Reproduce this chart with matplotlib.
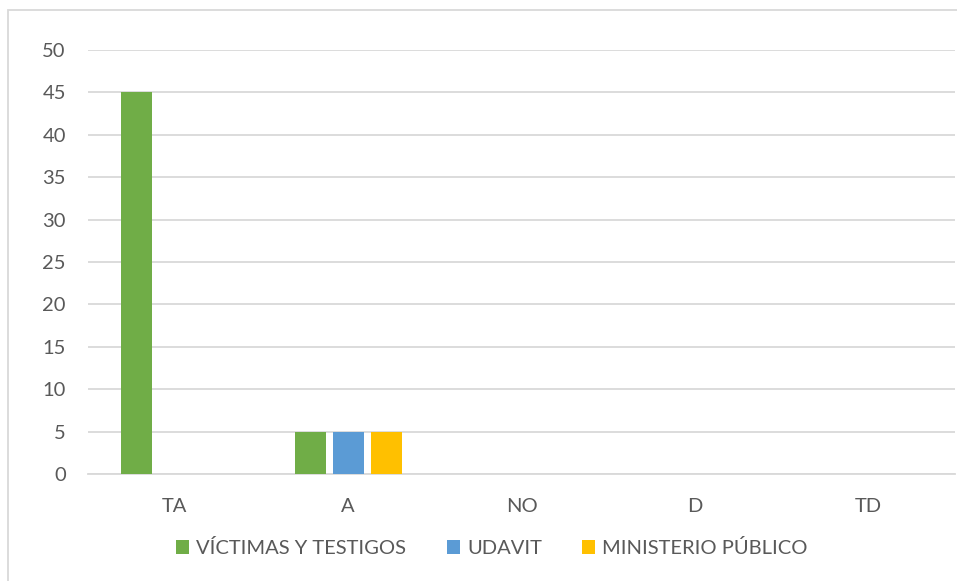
import matplotlib.pyplot as plt
from matplotlib.patches import Rectangle
import numpy as np

# Data
categories = ['TA', 'A', 'NO', 'D', 'TD']
series_names = ['VÍCTIMAS Y TESTIGOS', 'UDAVIT', 'MINISTERIO PÚBLICO']
victimas = [45, 5, 0, 0, 0]
udavit = [0, 5, 0, 0, 0]
ministerio = [0, 5, 0, 0, 0]
colors = ['#70AD47', '#5B9BD5', '#FFC000']

plt.rcParams['font.family'] = ['Lato', 'DejaVu Sans']
text_color = '#595959'

fig = plt.figure(figsize=(9.57, 5.81), dpi=100)
ax = fig.add_axes([88 / 957, 1 - 474 / 581, (955 - 88) / 957, (474 - 50) / 581])

x = np.arange(len(categories))
width = 0.178
offset = 0.219
for i, (vals, name, col) in enumerate(zip([victimas, udavit, ministerio], series_names, colors)):
    ax.bar(x + (i - 1) * offset, vals, width, color=col, label=name, zorder=3)

ax.set_xlim(-0.5, len(categories) - 0.5)
ax.set_ylim(0, 50)
ax.set_yticks(range(0, 51, 5))
ax.set_xticks(x)
ax.set_xticklabels(categories)

# Gridlines like Excel
ax.grid(axis='y', color='#D9D9D9', linewidth=1.3, zorder=0)
for s in ['top', 'right', 'left']:
    ax.spines[s].set_visible(False)
ax.spines['bottom'].set_color('#D9D9D9')
ax.spines['bottom'].set_linewidth(1.3)
ax.tick_params(axis='both', length=0, labelsize=14.5, colors=text_color)
ax.tick_params(axis='x', pad=17)
ax.tick_params(axis='y', pad=16)

leg = ax.legend(loc='center', bbox_to_anchor=(492 / 957, 1 - 548 / 581),
                bbox_transform=fig.transFigure, ncol=3, frameon=False,
                fontsize=14.5, handlelength=0.65, handleheight=0.65,
                handletextpad=0.35, columnspacing=2.0)
for t in leg.get_texts():
    t.set_color(text_color)

# Outer chart border
fig.patches.append(Rectangle((8 / 957, -0.05), 1.1, 1 - 10 / 581 + 0.05,
                             transform=fig.transFigure, fill=False,
                             edgecolor='#D9D9D9', linewidth=1.3))

fig.savefig('out.png', dpi=100, facecolor='white')
